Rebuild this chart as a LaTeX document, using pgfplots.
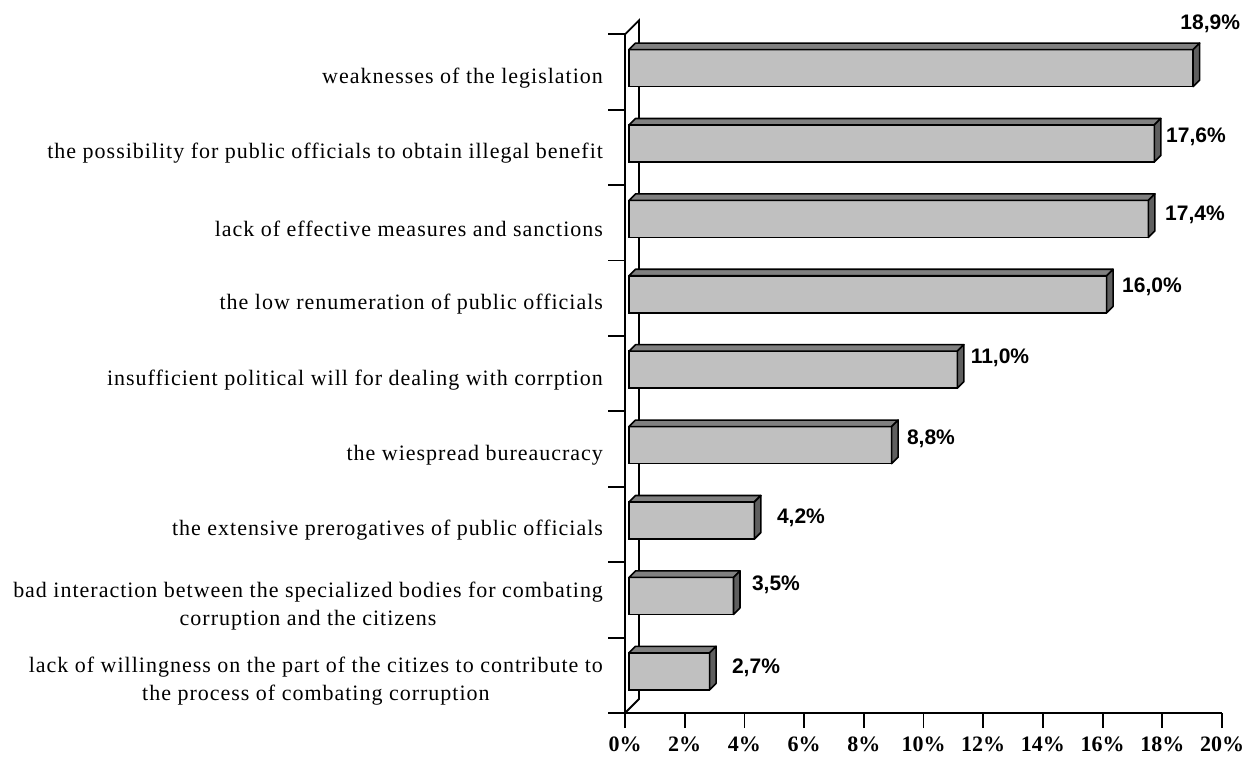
\documentclass[border=0pt]{standalone}
\usepackage{pgfplots}
\pgfplotsset{compat=1.18}
\usepackage{pgfplotstable}
\usepackage{fontspec}
\setmainfont{Liberation Serif}
\setsansfont{Liberation Sans}
\newfontfamily\catfont{Liberation Serif}[LetterSpace=4.5]

\definecolor{barfront}{HTML}{C0C0C0}
\definecolor{bartop}{HTML}{808080}
\definecolor{barside}{HTML}{5F5F5F}

% depth and half height of the 3D bars (pt)
\newcommand\bardepth{3.25}
\newcommand\barhalf{9.25}
% pt per 1% on the value axis
\newcommand\xunitpt{14.925}

% top and right faces of a 3D bar, drawn at the end of its front face
\pgfdeclareplotmark{bar3d}{%
  \pgfmathsetmacro\barlen{\barval*\xunitpt}%
  \pgfmathsetmacro\barlenb{\barlen-\bardepth}%
  \pgfmathsetmacro\bartopy{\barhalf+\bardepth}%
  \pgfmathsetmacro\barboty{\bardepth-\barhalf}%
  \pgfpathmoveto{\pgfqpoint{-\barlen pt}{\barhalf pt}}%
  \pgfpathlineto{\pgfqpoint{0pt}{\barhalf pt}}%
  \pgfpathlineto{\pgfqpoint{\bardepth pt}{\bartopy pt}}%
  \pgfpathlineto{\pgfqpoint{-\barlenb pt}{\bartopy pt}}%
  \pgfpathclose
  \pgfsetfillcolor{bartop}%
  \pgfusepath{fill,stroke}%
  \pgfpathmoveto{\pgfqpoint{0pt}{\barhalf pt}}%
  \pgfpathlineto{\pgfqpoint{\bardepth pt}{\bartopy pt}}%
  \pgfpathlineto{\pgfqpoint{\bardepth pt}{\barboty pt}}%
  \pgfpathlineto{\pgfqpoint{0pt}{-\barhalf pt}}%
  \pgfpathclose
  \pgfsetfillcolor{barside}%
  \pgfusepath{fill,stroke}%
}

% idx: category position (0 = bottom), v: share in %, lx/ly: label offset (pt)
\pgfplotstableread{
idx v    lx    ly
0   2.7  23.2  1.95
1   3.5  21.25 5.75
2   4.2  23.3  1.55
3   8.8  19.65 3.35
4   11.0 21.3  6.15
5   16.0 22.7  3.95
6   17.4 23.3  2.25
7   17.6 20.8  3.55
8   18.9 8.5   22.35
}\causes

\begin{document}
\begin{tikzpicture}
\useasboundingbox (0,0) rectangle (625.5pt,380pt);
\begin{axis}[
  at={(312.5pt,23.5pt)}, anchor=south west,
  scale only axis, width=298.5pt, height=339.3pt,
  xmin=0, xmax=20, ymin=-0.5, ymax=8.5,
  clip=false,
  axis x line*=bottom, axis y line*=left,
  axis line style={line width=0.9pt, -},
  tick align=outside,
  major tick length=7.5pt, minor tick length=8.5pt,
  tick style={black, line width=0.9pt},
  major y tick style={draw=none},
  xtick={0,2,...,20},
  xticklabels={0\%,2\%,4\%,6\%,8\%,10\%,12\%,14\%,16\%,18\%,20\%},
  xticklabel style={font=\fontsize{11}{13}\selectfont\bfseries, yshift=-1pt},
  ytick={0,...,8},
  minor ytick={-0.5,0.5,...,8.5},
  yticklabels={
    {lack of willingness on the part of the citizes to contribute to\\the process of combating corruption},
    {bad interaction between the specialized bodies for combating\\corruption and the citizens},
    {the extensive prerogatives of public officials},
    {the wiespread bureaucracy},
    {insufficient political will for dealing with corrption},
    {the low renumeration of public officials},
    {lack of effective measures and sanctions},
    {the possibility for public officials to obtain illegal benefit},
    {weaknesses of the legislation}},
  yticklabel style={align=center, font=\catfont\fontsize{11}{14}\selectfont, yshift=-3pt},
]
% back wall edge
\draw[line width=0.9pt] (rel axis cs:0,0) -- ++(7pt,7pt)
  -- ([shift={(7pt,7pt)}]rel axis cs:0,1) -- (rel axis cs:0,1);

% front faces
\addplot[xbar, bar width=18.5pt, bar shift=0pt, fill=barfront, draw=black,
  line width=0.8pt, xshift=2pt, yshift=2pt]
  table[x=v, y=idx]{\causes};

% top and right faces, with the value labels
\addplot[only marks, mark=bar3d, draw=black, line width=0.8pt,
  line join=round,
  xshift=2pt, yshift=2pt,
  visualization depends on={\thisrow{v}\as\barval},
  visualization depends on={\thisrow{lx}\as\labx},
  visualization depends on={\thisrow{ly}\as\laby},
  point meta=explicit,
  nodes near coords={\pgfmathprintnumber[fixed,fixed zerofill,precision=1,use comma,assume math mode=true]{\pgfplotspointmeta}\%},
  every node near coord/.style={anchor=center, xshift=\labx pt, yshift=\laby pt,
    font=\sffamily\bfseries\fontsize{10.5}{12}\selectfont, text=black}]
  table[x=v, y=idx, meta=v]{\causes};
\end{axis}
\end{tikzpicture}
\end{document}
